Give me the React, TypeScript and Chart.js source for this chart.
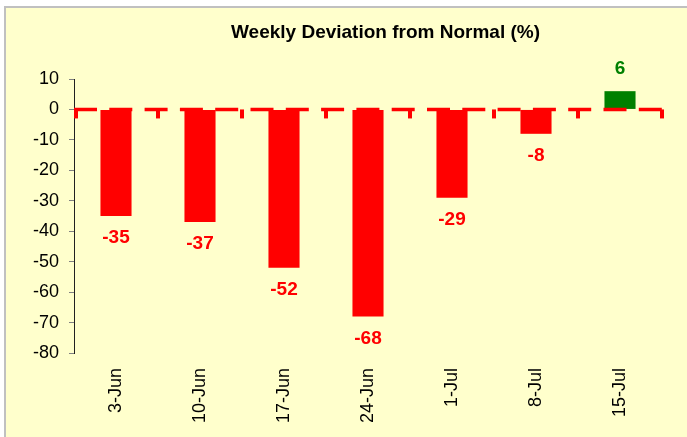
import React, { useEffect, useRef } from "react";
import { Chart, registerables } from "chart.js";

Chart.register(...registerables);

const TITLE = "Weekly Deviation from Normal (%)";
const categories = ["3-Jun", "10-Jun", "17-Jun", "24-Jun", "1-Jul", "8-Jul", "15-Jul"];
const deviation = [-35, -37, -52, -68, -29, -8, 6];
const yMin = -80;
const yMax = 10;
const yStep = 10;

const RED = "#FF0000";
const GREEN = "#008000";
const FONT = "'Liberation Sans', Arial, sans-serif";

const overlayPlugin = {
  id: "overlay",
  afterDatasetsDraw(chart: any) {
    const { ctx, chartArea } = chart;
    const xs = chart.scales.x;
    const ys = chart.scales.y;
    const y0 = ys.getPixelForValue(0);
    ctx.save();
    // dashed zero line
    ctx.strokeStyle = RED;
    ctx.lineWidth = 3.6;
    ctx.setLineDash([23, 12.3]);
    ctx.beginPath();
    ctx.moveTo(chartArea.left, y0);
    ctx.lineTo(chartArea.right, y0);
    ctx.stroke();
    ctx.setLineDash([]);
    // category boundary ticks
    ctx.fillStyle = RED;
    const n = categories.length;
    for (let i = 0; i <= n; i++) {
      let bx: number;
      if (i === 0) bx = chartArea.left + 2;
      else if (i === n) bx = chartArea.right;
      else bx = (xs.getPixelForValue(i - 1) + xs.getPixelForValue(i)) / 2;
      ctx.fillRect(bx - 2, y0, 4, 9);
    }
    // value labels
    const meta = chart.getDatasetMeta(0);
    ctx.font = `bold 19px ${FONT}`;
    ctx.textAlign = "center";
    ctx.textBaseline = "middle";
    meta.data.forEach((el: any, i: number) => {
      const v = deviation[i];
      ctx.fillStyle = v < 0 ? RED : GREEN;
      const ty = v < 0 ? el.y + 22 : el.y - 22;
      ctx.fillText(String(v), el.x, ty);
    });
    // title
    ctx.fillStyle = "#000000";
    ctx.font = `bold 19px ${FONT}`;
    ctx.textBaseline = "alphabetic";
    ctx.fillText(TITLE, 385.5, 38);
    ctx.restore();
  },
};

export default function App() {
  const ref = useRef<HTMLCanvasElement | null>(null);
  useEffect(() => {
    if (!ref.current) return;
    const chart = new Chart(ref.current, {
      type: "bar",
      data: {
        labels: categories,
        datasets: [
          {
            data: deviation,
            backgroundColor: deviation.map((v) => (v < 0 ? RED : GREEN)),
            borderWidth: 0,
            barPercentage: 0.37,
            categoryPercentage: 1,
          },
        ],
      },
      options: {
        responsive: false,
        animation: false,
        devicePixelRatio: 1,
        layout: { padding: { top: 79, right: 25, bottom: 0, left: 0 } },
        plugins: {
          legend: { display: false },
          title: { display: false },
          tooltip: { enabled: false },
        },
        scales: {
          x: {
            grid: { display: false, drawTicks: false },
            border: { display: false },
            ticks: {
              autoSkip: false,
              maxRotation: 90,
              minRotation: 90,
              padding: 15,
              color: "#000000",
              font: { family: FONT, size: 18 },
            },
            afterFit: (s: any) => {
              s.height = 84;
            },
          },
          y: {
            min: yMin,
            max: yMax,
            grid: {
              drawOnChartArea: false,
              drawTicks: true,
              tickLength: 5,
              color: "#808080",
            },
            border: { display: true, color: "#202020", width: 1 },
            ticks: {
              stepSize: yStep,
              padding: 10,
              color: "#000000",
              font: { family: FONT, size: 18 },
            },
            afterFit: (s: any) => {
              s.width = 74;
            },
          },
        },
      },
      plugins: [overlayPlugin],
    });
    return () => chart.destroy();
  }, []);

  return (
    <div style={{ position: "fixed", left: 0, top: 0, width: 687, height: 437, background: "#FFFFFF", overflow: "hidden" }}>
      <div
        style={{
          position: "absolute",
          left: 4,
          top: 6,
          width: 720,
          height: 480,
          border: "2px solid #C0C0C0",
          background: "#FFFFCC",
        }}
      />
      <canvas ref={ref} width={687} height={437} style={{ position: "absolute", left: 0, top: 0 }} />
    </div>
  );
}
